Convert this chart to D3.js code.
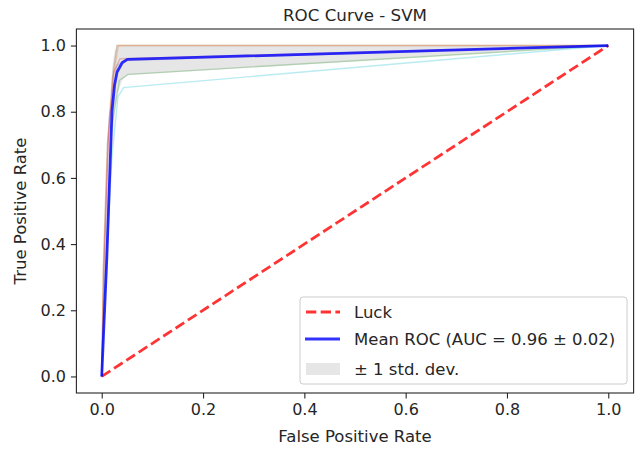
<!DOCTYPE html>
<html>
<head>
<meta charset="utf-8">
<title>ROC Curve - SVM</title>
<script src="https://d3js.org/d3.v7.min.js"></script>
<style>
  body { margin: 0; background: #fff; }
  text { font-family: "DejaVu Sans", sans-serif; fill: #262626; }
  .tick text { font-size: 16px; }
  .tick line { stroke: #262626; stroke-width: 1.1; }
</style>
</head>
<body>
<script>

// per-fold ROC points [fpr, tpr]
var foldColors = ["#8c564b", "#ff7f0e", "#d62728", "#9467bd", "#2ca02c", "#17becf"];
var folds = [
  [[0,0],[0.003,0.32],[0.011,0.7],[0.021,0.9],[0.03,1.0],[1,1]],
  [[0,0],[0.003,0.3],[0.012,0.7],[0.022,0.9],[0.033,1.0],[1,1]],
  [[0,0],[0.005,0.35],[0.013,0.72],[0.024,0.92],[0.036,0.96],[1,1]],
  [[0,0],[0.006,0.38],[0.015,0.78],[0.03,0.94],[0.046,0.955],[1,1]],
  [[0,0],[0.008,0.35],[0.02,0.76],[0.035,0.895],[0.052,0.913],[1,1]],
  [[0,0],[0.008,0.3],[0.02,0.66],[0.032,0.845],[0.043,0.873],[1,1]]
];

// mean ROC and std band
var meanFpr = [0, 0.0101, 0.0202, 0.0253, 0.0303, 0.0404, 0.0505, 1];
var meanTpr = [0, 0.36, 0.80, 0.88, 0.92, 0.948, 0.958, 1];
var tprUpper = [0, 0.45, 0.93, 0.98, 1, 1, 1, 1];
var tprLower = [0, 0.27, 0.68, 0.79, 0.85, 0.895, 0.91, 1];

var luck = [[0,0],[1,1]];
var ticks = [0, 0.2, 0.4, 0.6, 0.8, 1.0];

var W = 635, H = 451;
var margin = {top: 29, right: 1.4, bottom: 58, left: 76.4};
var width = W - margin.left - margin.right,
    height = H - margin.top - margin.bottom;

var svg = d3.select("body").append("svg")
    .attr("width", W)
    .attr("height", H);

var g = svg.append("g")
    .attr("transform", "translate(" + margin.left + "," + margin.top + ")");

var x = d3.scaleLinear().domain([-0.05, 1.05]).range([0, width]);
var y = d3.scaleLinear().domain([-0.05, 1.05]).range([height, 0]);

var line = d3.line()
    .x(function(d){ return x(d[0]); })
    .y(function(d){ return y(d[1]); });

// fold curves
g.selectAll(".fold")
  .data(folds)
  .enter().append("path")
    .attr("class", "fold")
    .attr("fill", "none")
    .attr("stroke", function(d,i){ return foldColors[i]; })
    .attr("stroke-opacity", 0.3)
    .attr("stroke-width", 1.39)
    .attr("d", line);

// luck line
g.append("path")
    .datum(luck)
    .attr("fill", "none")
    .attr("stroke", "#ff0000")
    .attr("stroke-opacity", 0.8)
    .attr("stroke-width", 2.78)
    .attr("stroke-dasharray", "10.3,4.4")
    .attr("d", line);

// std band
var band = d3.area()
    .x(function(d,i){ return x(meanFpr[i]); })
    .y0(function(d,i){ return y(tprLower[i]); })
    .y1(function(d,i){ return y(tprUpper[i]); });
g.append("path")
    .datum(meanFpr)
    .attr("fill", "#808080")
    .attr("fill-opacity", 0.2)
    .attr("d", band);

// mean ROC
g.append("path")
    .datum(meanFpr.map(function(f,i){ return [f, meanTpr[i]]; }))
    .attr("fill", "none")
    .attr("stroke", "#0000ff")
    .attr("stroke-opacity", 0.8)
    .attr("stroke-width", 2.78)
    .attr("stroke-linejoin", "round")
    .attr("d", line);

// axes
var xAxis = g.append("g")
    .attr("transform", "translate(0," + height + ")")
    .call(d3.axisBottom(x).tickValues(ticks).tickFormat(d3.format(".1f")).tickSize(5.5).tickPadding(5));
var yAxis = g.append("g")
    .call(d3.axisLeft(y).tickValues(ticks).tickFormat(d3.format(".1f")).tickSize(5.5).tickPadding(5));
xAxis.select(".domain").remove();
yAxis.select(".domain").remove();
xAxis.selectAll("text").attr("fill", "#262626");
yAxis.selectAll("text").attr("fill", "#262626");

// spines
g.append("rect")
    .attr("width", width)
    .attr("height", height)
    .attr("fill", "none")
    .attr("stroke", "#262626")
    .attr("stroke-width", 1.1);

// labels
svg.append("text")
    .attr("x", margin.left + width/2)
    .attr("y", 21)
    .attr("text-anchor", "middle")
    .style("font-size", "16.7px")
    .text("ROC Curve - SVM");
svg.append("text")
    .attr("x", margin.left + width/2)
    .attr("y", 442)
    .attr("text-anchor", "middle")
    .style("font-size", "16.5px")
    .text("False Positive Rate");
svg.append("text")
    .attr("transform", "translate(26," + (margin.top + height/2) + ") rotate(-90)")
    .attr("text-anchor", "middle")
    .style("font-size", "16.5px")
    .text("True Positive Rate");

// legend
var legend = svg.append("g").attr("transform", "translate(300,297)");
legend.append("rect")
    .attr("width", 327)
    .attr("height", 87)
    .attr("rx", 3)
    .attr("fill", "#fff")
    .attr("fill-opacity", 0.8)
    .attr("stroke", "#cccccc");

var items = [
  {label: "Luck", kind: "dash"},
  {label: "Mean ROC (AUC = 0.96 \u00b1 0.02)", kind: "line"},
  {label: "\u00b1 1 std. dev.", kind: "patch"}
];
var rowY = [15, 42, 72];
items.forEach(function(d,i){
  var cy = rowY[i];
  if (d.kind == "dash") {
    legend.append("line")
      .attr("x1", 6).attr("x2", 40).attr("y1", cy).attr("y2", cy)
      .attr("stroke", "#ff0000").attr("stroke-opacity", 0.8)
      .attr("stroke-width", 2.78).attr("stroke-dasharray", "10.3,4.4");
  } else if (d.kind == "line") {
    legend.append("line")
      .attr("x1", 5).attr("x2", 40).attr("y1", cy).attr("y2", cy)
      .attr("stroke", "#0000ff").attr("stroke-opacity", 0.8)
      .attr("stroke-width", 2.78);
  } else {
    legend.append("rect")
      .attr("x", 6).attr("y", cy - 6).attr("width", 34).attr("height", 12)
      .attr("fill", "#808080").attr("fill-opacity", 0.2);
  }
  legend.append("text")
    .attr("x", 54)
    .attr("y", cy + 6)
    .style("font-size", "16.5px")
    .text(d.label);
});

</script>
</body>
</html>
